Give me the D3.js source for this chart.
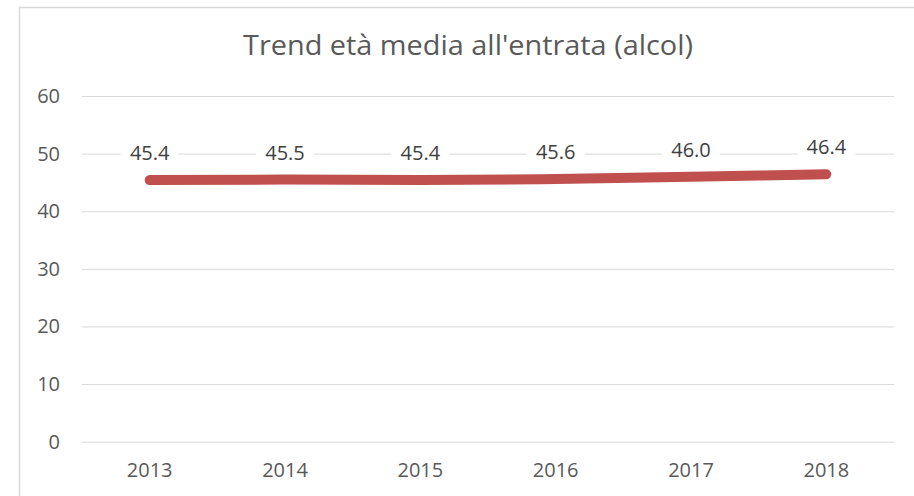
<!DOCTYPE html>
<html lang="it">
<head>
    <meta charset="UTF-8">
    <title>Trend età media all'entrata (alcol)</title>
    <script src="https://d3js.org/d3.v7.min.js"></script>
    <style>
        body {
            margin: 0;
            background-color: #ffffff;
        }
        text {
            font-family: 'Open Sans', sans-serif;
        }
        .tick text {
            fill: #595959;
        }
        .y-axis .tick text {
            font-size: 20px;
        }
        .x-axis .tick text {
            font-size: 20px;
        }
        .data-label {
            fill: #404040;
            font-size: 20px;
        }
    </style>
</head>
<body>
    <div id="chart"></div>

    <script>
        // Data
        const years = ["2013", "2014", "2015", "2016", "2017", "2018"];
        const ages = [45.4, 45.5, 45.4, 45.6, 46.0, 46.4];
        const yTicks = [0, 10, 20, 30, 40, 50, 60];

        const W = 914, H = 496;
        const margin = { top: 96, right: 20, bottom: 54, left: 82 };
        const width = 894 - margin.left;
        const height = 441.7 - margin.top;

        const root = d3.select("#chart")
            .append("svg")
            .attr("width", W)
            .attr("height", H);

        // outer frame (continues past right and bottom edges)
        root.append("rect")
            .attr("x", 19.5)
            .attr("y", 7.5)
            .attr("width", W + 20)
            .attr("height", H + 20)
            .attr("fill", "none")
            .attr("stroke", "#d9d9d9")
            .attr("stroke-width", 1.5);

        // Title
        root.append("text")
            .attr("x", 468)
            .attr("y", 55)
            .attr("text-anchor", "middle")
            .attr("textLength", 450)
            .attr("lengthAdjust", "spacingAndGlyphs")
            .style("font-size", "27px")
            .style("fill", "#595959")
            .text("Trend età media all'entrata (alcol)");

        const svg = root.append("g")
            .attr("transform", `translate(${margin.left}, ${margin.top})`);

        const x = d3.scaleBand()
            .domain(years)
            .range([0, width])
            .padding(0);

        const y = d3.scaleLinear()
            .domain([0, 60])
            .range([height, 0]);

        // Y axis with gridlines
        svg.append("g")
            .attr("class", "y-axis")
            .call(d3.axisLeft(y).tickValues(yTicks).tickSize(-width).tickPadding(22))
            .call(g => {
                g.select(".domain").remove();
                g.selectAll(".tick line").attr("stroke", "#d9d9d9").attr("stroke-width", 1);
            });

        // X axis labels
        svg.append("g")
            .attr("class", "x-axis")
            .attr("transform", `translate(0, ${height})`)
            .call(d3.axisBottom(x).tickSize(0).tickPadding(21))
            .call(g => g.select(".domain").remove());

        // Line
        const line = d3.line()
            .x((d, i) => x(years[i]) + x.bandwidth() / 2)
            .y(d => y(d))
            .curve(d3.curveMonotoneX);

        svg.append("path")
            .datum(ages)
            .attr("d", line)
            .attr("fill", "none")
            .attr("stroke", "#c0504d")
            .attr("stroke-width", 10)
            .attr("stroke-linecap", "round")
            .attr("stroke-linejoin", "round");

        // Data labels with white background
        const labels = svg.selectAll(".lbl")
            .data(ages)
            .enter()
            .append("g")
            .attr("class", "lbl")
            .attr("transform", (d, i) => `translate(${x(years[i]) + x.bandwidth() / 2}, ${y(d) - 27})`);

        labels.append("rect")
            .attr("x", -29)
            .attr("y", -12)
            .attr("width", 58)
            .attr("height", 24)
            .attr("fill", "#ffffff");

        labels.append("text")
            .attr("class", "data-label")
            .attr("text-anchor", "middle")
            .attr("dy", "0.35em")
            .text(d => d.toFixed(1));
    </script>
</body>
</html>
